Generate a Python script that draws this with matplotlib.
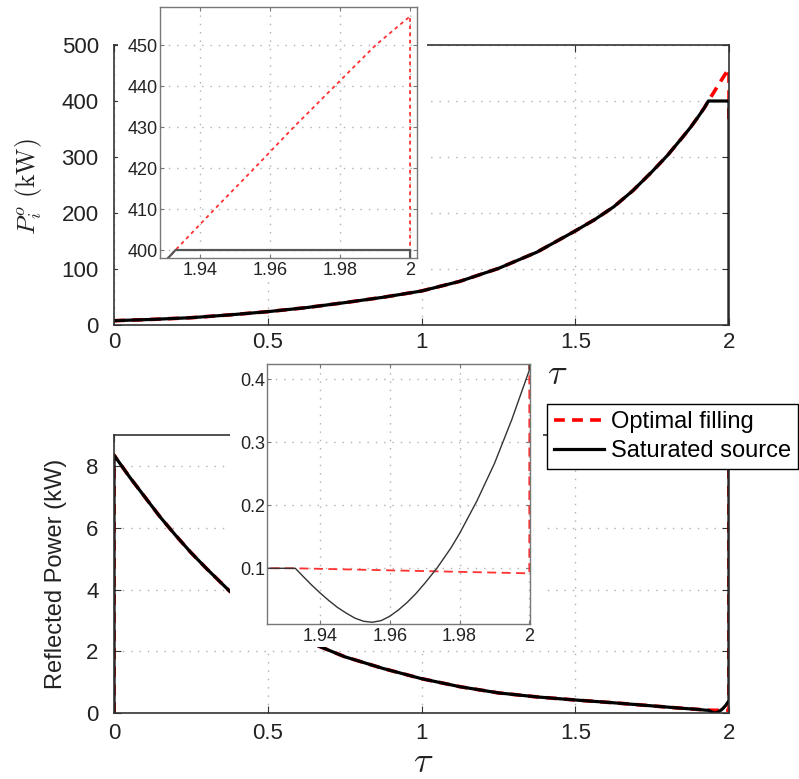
import matplotlib
matplotlib.use("Agg")
import matplotlib.pyplot as plt

plt.rcParams['font.family'] = ['Liberation Sans', 'DejaVu Sans']
plt.rcParams['mathtext.fontset'] = 'cm'

# ---- top panel: incident power P_i^o (kW) ----
tau_p = [0, 0.125, 0.25, 0.375, 0.5, 0.625, 0.75, 0.875, 1.0, 1.125, 1.25,
         1.375, 1.5, 1.5625, 1.625, 1.6875, 1.75, 1.8, 1.85, 1.875, 1.9,
         1.92, 1.933]
p_rise = [7.7, 10, 13, 18, 23.8, 31, 39.9, 49.5, 60.7, 78, 101,
          130, 168, 188, 211, 240, 274, 303, 336, 353, 372,
          388, 400]
# optimal filling keeps rising after the source saturates
tau_p_opt = [1.9442, 1.9556, 1.9668, 1.9785, 1.9902, 2.0, 2.0]
p_opt_tail = [410, 420, 430, 440, 450, 457, 360]
# saturated source stays clamped at 400 kW
tau_p_sat = [2.0, 2.0]
p_sat_tail = [400, 0]

# ---- bottom panel: reflected power (kW) ----
tau_r = [0, 0, 0.05, 0.1, 0.15, 0.2, 0.25, 0.3, 0.375, 0.5, 0.664, 0.75,
         0.875, 1.0, 1.125, 1.25, 1.375, 1.5, 1.625, 1.75, 1.85, 1.9,
         1.925, 1.9329]
r_common = [0, 8.35, 7.65, 7.0, 6.35, 5.76, 5.2, 4.69, 3.96, 3.0, 2.18, 1.83,
            1.45, 1.12, 0.86, 0.66, 0.53, 0.43, 0.34, 0.24, 0.16, 0.125,
            0.1, 0.1]
tau_r_opt = [2.0, 2.0]
r_opt_tail = [0.092, 9]
tau_r_sat = [1.935, 1.9375, 1.94, 1.9425, 1.945, 1.9475, 1.95, 1.9525, 1.955,
             1.9575, 1.96, 1.9625, 1.965, 1.9675, 1.97, 1.9735, 1.9775, 1.98,
             1.985, 1.99, 1.995, 2.0, 2.0]
r_sat_tail = [0.088, 0.074, 0.061, 0.049, 0.038, 0.029, 0.021, 0.016, 0.0145,
              0.017, 0.024, 0.034, 0.046, 0.060, 0.076, 0.100, 0.132, 0.155,
              0.207, 0.266, 0.336, 0.414, 9]

# ticks
main_xticks = [0, 0.5, 1, 1.5, 2]
main_xlabels = ['0', '0.5', '1', '1.5', '2']
top_yticks = [0, 100, 200, 300, 400, 500]
bot_yticks = [0, 2, 4, 6, 8]
inset_xticks = [1.94, 1.96, 1.98, 2]
inset_xlabels = ['1.94', '1.96', '1.98', '2']
top_inset_yticks = [400, 410, 420, 430, 440, 450]
bot_inset_yticks = [0.1, 0.2, 0.3, 0.4]
bot_inset_ylabels = ['0.1', '0.2', '0.3', '0.4']

labels = ['Optimal filling', 'Saturated source']

W, H = 799, 779


def fig_rect(x0, y0, x1, y1):
    # pixel box (top-left origin) -> figure fraction
    return [x0 / W, 1 - y1 / H, (x1 - x0) / W, (y1 - y0) / H]


def style(ax, size, padx, pady, spine_col, spine_lw, tick_len):
    ax.tick_params(direction='in', top=True, right=True, length=tick_len,
                   width=0.8, color=spine_col, labelcolor='#222222', labelsize=size)
    ax.tick_params(axis='x', pad=padx)
    ax.tick_params(axis='y', pad=pady)
    for s in ax.spines.values():
        s.set_color(spine_col)
        s.set_linewidth(spine_lw)
    ax.grid(True, color='#b0b0b0', linestyle=(0, (1, 5)), linewidth=1.0)
    ax.set_axisbelow(True)


def backdrop(rect):
    bg = fig.add_axes(rect)
    bg.set_xticks([])
    bg.set_yticks([])
    for s in bg.spines.values():
        s.set_visible(False)
    bg.set_facecolor('white')
    return bg


fig = plt.figure(figsize=(W / 100, H / 100), dpi=100)

# main top
ax1 = fig.add_axes(fig_rect(114, 45, 729, 325))
ax1.plot(tau_p + tau_p_opt, p_rise + p_opt_tail, color='red', lw=2.6,
         linestyle=(0, (3, 2)))
ax1.plot(tau_p + tau_p_sat, p_rise + p_sat_tail, color='black', lw=2.3)
ax1.set_xlim(0, 2)
ax1.set_ylim(0, 500)
ax1.set_xticks(main_xticks, main_xlabels)
ax1.set_yticks(top_yticks)
style(ax1, 16, 5, 11, '#333333', 1.2, 5)

# main bottom
ax2 = fig.add_axes(fig_rect(114, 435, 729, 713.3))
l_opt, = ax2.plot(tau_r + tau_r_opt, r_common + r_opt_tail, color='red', lw=2.6,
                  linestyle=(0, (3, 2)))
l_sat, = ax2.plot(tau_r + tau_r_sat, r_common + r_sat_tail,
                  color='black', lw=2.3)
ax2.set_xlim(0, 2)
ax2.set_ylim(0, 9)
ax2.set_xticks(main_xticks, main_xlabels)
ax2.set_yticks(bot_yticks)
style(ax2, 16, 7, 11, '#333333', 1.2, 5)

# white areas behind the insets (they hide the main plots)
backdrop(fig_rect(118, 0, 427, 282))
backdrop(fig_rect(230, 352, 543, 647))

# top inset
ai1 = fig.add_axes(fig_rect(160, 7.3, 416.7, 258.3))
ai1.plot(tau_p + tau_p_opt, p_rise + p_opt_tail, color='#ff3030', lw=1.3,
         linestyle=(0, (2, 2)))
ai1.plot(tau_p + tau_p_sat, p_rise + p_sat_tail, color='#555555', lw=1.6)
ai1.set_xlim(1.92857, 2.0019)
ai1.set_ylim(397.98, 459.2)
ai1.set_xticks(inset_xticks, inset_xlabels)
ai1.set_yticks(top_inset_yticks)
style(ai1, 13, 3, 1.5, '#777777', 1.0, 3)

# bottom inset
ai2 = fig.add_axes(fig_rect(267, 364, 530, 624))
ai2.plot(tau_r + tau_r_opt, r_common + r_opt_tail, color='#ff3030', lw=1.3,
         linestyle=(0, (5, 3)))
ai2.plot(tau_r + tau_r_sat, r_common + r_sat_tail, color='#333333', lw=1.0)
ai2.set_xlim(1.9248, 2.0002)
ai2.set_ylim(0.0117, 0.4238)
ai2.set_xticks(inset_xticks, inset_xlabels)
ai2.set_yticks(bot_inset_yticks, bot_inset_ylabels)
style(ai2, 13, 3, 1.5, '#777777', 1.0, 3)

# axis labels
fig.text(29 / W, 1 - 187 / H, r'$P_i^o\ (\mathrm{kW})$', rotation=90,
         ha='center', va='center', fontsize=18.5, color='#222222')
fig.text(56 / W, 1 - 574 / H, 'Reflected Power (kW)', rotation=90,
         ha='center', va='center', fontsize=17, color='#222222')
fig.text(557 / W, 1 - 374 / H, r'$\tau$', ha='center', va='center',
         fontsize=26, color='#222222')
fig.text(423 / W, 1 - 763 / H, r'$\tau$', ha='center', va='center',
         fontsize=26, color='#222222')

leg = fig.legend([l_opt, l_sat], labels, loc='upper right',
                 bbox_to_anchor=(798 / W, 1 - 404 / H), bbox_transform=fig.transFigure,
                 fontsize=17, frameon=True, fancybox=False, framealpha=1,
                 edgecolor='black', borderaxespad=0, handlelength=2.1,
                 handletextpad=0.3, borderpad=0.3, labelspacing=0.3)
leg.get_frame().set_linewidth(1.0)

fig.savefig('out.png', dpi=100)
